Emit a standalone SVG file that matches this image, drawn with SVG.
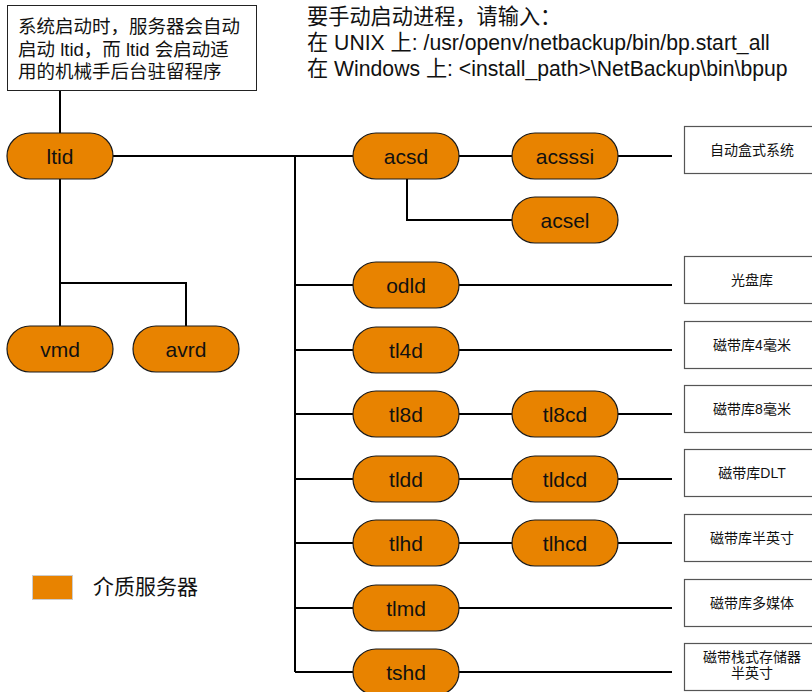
<svg xmlns="http://www.w3.org/2000/svg" width="812" height="692" viewBox="0 0 812 692">
<style>
.pill{fill:#E88300;stroke:#1a1a1a;stroke-width:1.2}
.box{fill:#fff;stroke:#555;stroke-width:1.2}
.pt{font-family:"Liberation Sans","Noto Sans CJK SC",sans-serif;font-size:21px;fill:#111;text-anchor:middle}
.bt{font-family:"Liberation Sans","Noto Sans CJK SC",sans-serif;font-size:14px;fill:#111;text-anchor:middle}
.nt{font-family:"Liberation Sans","Noto Sans CJK SC",sans-serif;font-size:18.5px;fill:#111}
.tt{font-family:"Liberation Sans","Noto Sans CJK SC",sans-serif;font-size:21.2px;fill:#111}
.ln{fill:none;stroke:#000;stroke-width:2}
</style>
<rect width="812" height="692" fill="#fff"/>
<g id="connectors" class="ln">
<path d="M60 90V133"/>
<path d="M113 156H353"/>
<path d="M60 179V326"/>
<path d="M60 283H186V326"/>
<path d="M295 156V672"/>
<path d="M459 156H512"/>
<path d="M618 156H672"/>
<path d="M407 179V220H512"/>
<path d="M295 285H353M459 285H672"/>
<path d="M295 350H353M459 350H672"/>
<path d="M295 414H353M459 414H512M618 414H672"/>
<path d="M295 479H353M459 479H512M618 479H672"/>
<path d="M295 543H353M459 543H512M618 543H672"/>
<path d="M295 608H353M459 608H672"/>
<path d="M295 672H353M459 672H672"/>
</g>
<g id="note">
<rect x="7.5" y="5.5" width="249" height="85" fill="#fff" stroke="#222" stroke-width="1"/>
<text class="nt" x="18" y="33">系统启动时，服务器会自动</text>
<text class="nt" x="18" y="56">启动 ltid，而 ltid 会启动适</text>
<text class="nt" x="18" y="78">用的机械手后台驻留程序</text>
</g>
<g id="instructions">
<text class="tt" x="307" y="24">要手动启动进程，请输入：</text>
<text class="tt" x="307" y="50">在 UNIX 上: /usr/openv/netbackup/bin/bp.start_all</text>
<text class="tt" x="307" y="76">在 Windows 上: &lt;install_path&gt;\NetBackup\bin\bpup</text>
</g>
<g id="ltid"><rect class="pill" x="7" y="133" width="106" height="46" rx="23"/><text class="pt" x="60" y="163.5">ltid</text></g>
<g id="vmd"><rect class="pill" x="7" y="326" width="106" height="46" rx="23"/><text class="pt" x="60" y="356.5">vmd</text></g>
<g id="avrd"><rect class="pill" x="133" y="326" width="106" height="46" rx="23"/><text class="pt" x="186" y="356.5">avrd</text></g>
<g id="acsd"><rect class="pill" x="353" y="133" width="106" height="46" rx="23"/><text class="pt" x="406" y="163.5">acsd</text></g>
<g id="acsssi"><rect class="pill" x="512" y="133" width="106" height="46" rx="23"/><text class="pt" x="565" y="163.5">acsssi</text></g>
<g id="acsel"><rect class="pill" x="512" y="197" width="106" height="46" rx="23"/><text class="pt" x="565" y="227.5">acsel</text></g>
<g id="odld"><rect class="pill" x="353" y="262" width="106" height="46" rx="23"/><text class="pt" x="406" y="292.5">odld</text></g>
<g id="tl4d"><rect class="pill" x="353" y="327" width="106" height="46" rx="23"/><text class="pt" x="406" y="357.5">tl4d</text></g>
<g id="tl8d"><rect class="pill" x="353" y="391" width="106" height="46" rx="23"/><text class="pt" x="406" y="421.5">tl8d</text></g>
<g id="tl8cd"><rect class="pill" x="512" y="391" width="106" height="46" rx="23"/><text class="pt" x="565" y="421.5">tl8cd</text></g>
<g id="tldd"><rect class="pill" x="353" y="456" width="106" height="46" rx="23"/><text class="pt" x="406" y="486.5">tldd</text></g>
<g id="tldcd"><rect class="pill" x="512" y="456" width="106" height="46" rx="23"/><text class="pt" x="565" y="486.5">tldcd</text></g>
<g id="tlhd"><rect class="pill" x="353" y="520" width="106" height="46" rx="23"/><text class="pt" x="406" y="550.5">tlhd</text></g>
<g id="tlhcd"><rect class="pill" x="512" y="520" width="106" height="46" rx="23"/><text class="pt" x="565" y="550.5">tlhcd</text></g>
<g id="tlmd"><rect class="pill" x="353" y="585" width="106" height="46" rx="23"/><text class="pt" x="406" y="615.5">tlmd</text></g>
<g id="tshd"><rect class="pill" x="353" y="649" width="106" height="46" rx="23"/><text class="pt" x="406" y="679.5">tshd</text></g>
<g id="box-acs"><rect class="box" x="684.5" y="126.5" width="140" height="47"/><text class="bt" x="752" y="155">自动盒式系统</text></g>
<g id="box-odl"><rect class="box" x="684.5" y="256.5" width="140" height="47"/><text class="bt" x="752" y="285">光盘库</text></g>
<g id="box-tl4"><rect class="box" x="684.5" y="321.5" width="140" height="47"/><text class="bt" x="752" y="350">磁带库4毫米</text></g>
<g id="box-tl8"><rect class="box" x="684.5" y="385.5" width="140" height="47"/><text class="bt" x="752" y="414">磁带库8毫米</text></g>
<g id="box-tld"><rect class="box" x="684.5" y="449.5" width="140" height="47"/><text class="bt" x="752" y="478">磁带库DLT</text></g>
<g id="box-tlh"><rect class="box" x="684.5" y="514.5" width="140" height="47"/><text class="bt" x="752" y="543">磁带库半英寸</text></g>
<g id="box-tlm"><rect class="box" x="684.5" y="579.5" width="140" height="47"/><text class="bt" x="752" y="608">磁带库多媒体</text></g>
<g id="box-tsh"><rect class="box" x="684.5" y="643.5" width="140" height="47"/><text class="bt" x="752" y="662">磁带栈式存储器</text><text class="bt" x="752" y="678">半英寸</text></g>
<g id="legend">
<rect x="32.5" y="575.5" width="40" height="24" fill="#E88300" stroke="#ccc" stroke-width="1"/>
<text x="93" y="594" font-family="'Liberation Sans','Noto Sans CJK SC',sans-serif" font-size="21" fill="#111">介质服务器</text>
</g>
</svg>
